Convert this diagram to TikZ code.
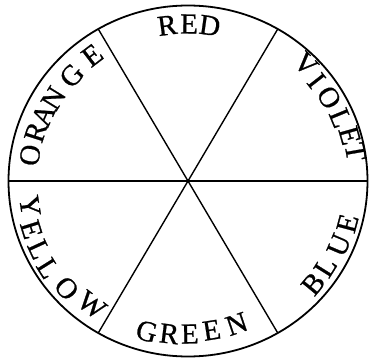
\documentclass[tikz,border=0pt]{standalone}
\usepackage{fontspec}
\newfontfamily\wheelfont{Liberation Serif}[FakeBold=0.8]
\tikzset{
  rim/.style={line width=1.8pt},
  spoke/.style={line width=1.4pt},
  lettr/.style={inner sep=0pt, font=\wheelfont\fontsize{29}{32}\selectfont},
}
\begin{document}
\begin{tikzpicture}[x=1pt,y=1pt]
\useasboundingbox (0,0) rectangle (370,360);
\coordinate (c) at (188,179);
\draw[rim] (c) ellipse [x radius=179.5, y radius=175.5];
\foreach \k in {0,60,120,180,240,300}
  \path (c) ++(\k:179.5 and 175.5) coordinate (e\k);
\draw[spoke] (e180) -- (e0);
\draw[spoke] (e120) -- (e300);
\draw[spoke] (e60) -- (e240);
% upper words: letter tops face outward
\foreach \ch/\a/\r [count=\i] in {R/97.6/157, E/89.6/157, D/82/157,
    O/170.7/160, R/162.2/160, A/155.5/159, N/148.4/158, G/137.8/157, E/127.3/158,
    V/44.8/166, I/38/163, O/30.6/164, L/22.4/165, E/15.7/168, T/9.9/170}
  \node[lettr, rotate=\a-90] (u\i) at ([shift={(\a:\r)}]c) {\ch};
% lower words: letter tops face inward
\foreach \ch/\a/\r [count=\i] in {Y/189/160, E/197.2/164, L/204.7/164, L/212/165, O/221.5/162, W/232.2/157,
    G/254.7/156, R/263/154, E/270.7/153, E/279/151, N/288.8/151,
    B/320.6/162, L/328/162, U/337/164, E/345.1/165}
  \node[lettr, rotate=\a+90] (d\i) at ([shift={(\a:\r)}]c) {\ch};
\end{tikzpicture}
\end{document}
